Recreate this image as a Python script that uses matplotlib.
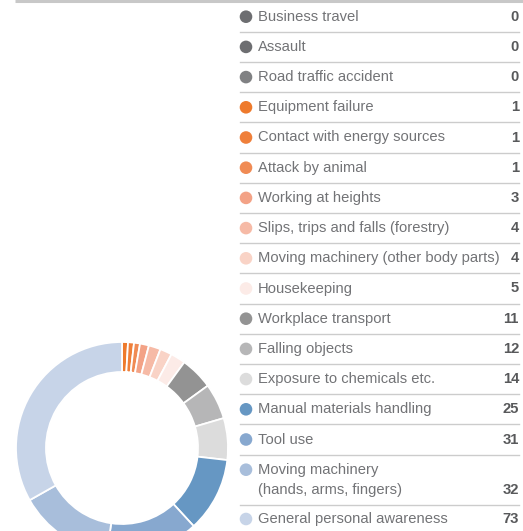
import matplotlib
matplotlib.use("Agg")
import matplotlib.pyplot as plt
from matplotlib.patches import Circle

categories = [
    "Business travel", "Assault", "Road traffic accident", "Equipment failure",
    "Contact with energy sources", "Attack by animal", "Working at heights",
    "Slips, trips and falls (forestry)", "Moving machinery (other body parts)",
    "Housekeeping", "Workplace transport", "Falling objects",
    "Exposure to chemicals etc.", "Manual materials handling", "Tool use",
    "Moving machinery\n(hands, arms, fingers)", "General personal awareness",
]
values = [0, 0, 0, 1, 1, 1, 3, 4, 4, 5, 11, 12, 14, 25, 31, 32, 73]
colors = [
    "#6d6e71", "#6d6e71", "#808183", "#ee7a2c",
    "#ef7f3a", "#f08b54", "#f3a286", "#f6baa6", "#f9d3c6",
    "#fcebe7", "#939393", "#b6b6b7", "#dcdcdc",
    "#6697c3", "#87a8cf", "#a8bedb", "#c7d4e8",
]

W, H = 523, 531
fig = plt.figure(figsize=(W / 100, H / 100), dpi=100)
ax = fig.add_axes([0, 0, 1, 1])

def Y(py):
    return H - py

font = "Liberation Sans"
text_color = "#727376"
val_color = "#58595b"
line_color = "#cccccc"
fs = 10.6

# donut (non-zero categories; tiny slices shown with a minimum visible size)
min_visible = 2
pv = [max(v, min_visible) for v in values if v > 0]
pc = [c for v, c in zip(values, colors) if v > 0]
ax.pie(pv, colors=pc, startangle=90, counterclock=False,
       center=(122, Y(448)), radius=106, frame=True,
       wedgeprops=dict(width=30, edgecolor="white", linewidth=1.3))
ax.set_xlim(0, W)
ax.set_ylim(0, H)
ax.set_aspect("equal")
ax.axis("off")

# top rule
ax.plot([15, W], [Y(1), Y(1)], color="#c8c8c8", lw=2.2, solid_capstyle="butt")

# legend table
pitch = 30.2
y0 = 16.7
x_dot, x_lab, x_val = 246, 258, 519
for i, (cat, v, c) in enumerate(zip(categories, values, colors)):
    yc = y0 + pitch * i if i <= 15 else 519
    ax.add_patch(Circle((x_dot, Y(yc)), 6.3, color=c, lw=0))
    if "\n" in cat:
        l1, l2 = cat.split("\n")
        ax.text(x_lab, Y(yc), l1, fontsize=fs, family=font, color=text_color,
                va="center", ha="left")
        ax.text(x_lab, Y(yc + 20), l2, fontsize=fs, family=font, color=text_color,
                va="center", ha="left")
        ax.text(x_val, Y(yc + 20), str(v), fontsize=fs, family=font,
                color=val_color, weight="bold", va="center", ha="right")
        sep = yc + 35
    else:
        ax.text(x_lab, Y(yc), cat, fontsize=fs, family=font, color=text_color,
                va="center", ha="left")
        ax.text(x_val, Y(yc), str(v), fontsize=fs, family=font,
                color=val_color, weight="bold", va="center", ha="right")
        sep = yc + 15
    if i < len(categories) - 1:
        ax.plot([240, 519], [Y(sep), Y(sep)], color=line_color, lw=1.0)

fig.savefig("out.png", dpi=100)
